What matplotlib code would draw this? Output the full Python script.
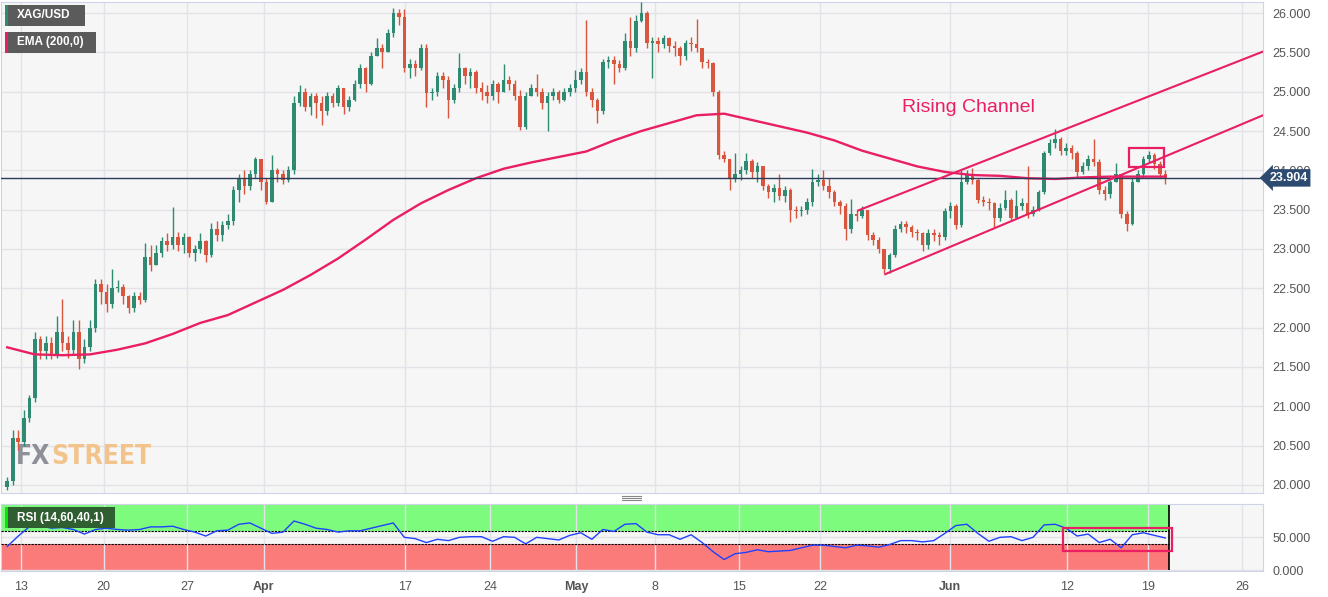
import matplotlib
matplotlib.use("Agg")
import matplotlib.pyplot as plt
import matplotlib.transforms as mtransforms
from matplotlib.patches import Rectangle
from matplotlib.lines import Line2D
import numpy as np

plt.rcParams['font.family'] = ['Liberation Sans', 'DejaVu Sans']

# XAG/USD, 8h candles, Mar 10 - Jun 20 2023 (open = previous close)
first_open = 19.98
close = [20.05, 20.6, 20.55, 20.85, 21.1, 21.85, 21.7, 21.8, 21.65, 21.95,
         21.8, 21.72, 21.95, 21.6, 21.75, 22.0, 22.55, 22.45, 22.3, 22.5,
         22.52, 22.4, 22.25, 22.4, 22.35, 22.9, 22.8, 22.95, 23.1, 23.05,
         23.15, 23.05, 23.15, 22.95, 23.0, 23.1, 22.92, 23.25, 23.18, 23.3,
         23.35, 23.75, 23.9, 23.8, 23.95, 24.15, 23.85, 23.6, 24.0, 23.95,
         23.88, 24.0, 24.85, 25.0, 24.8, 24.95, 24.85, 24.75, 24.95, 24.85,
         25.05, 24.8, 24.9, 25.1, 25.3, 25.1, 25.45, 25.55, 25.5, 25.75,
         26.0, 25.95, 25.3, 25.35, 25.3, 25.55, 24.98, 25.0, 25.2, 25.15,
         24.9, 25.05, 25.3, 25.2, 25.25, 25.05, 25.0, 24.95, 25.1, 25.0,
         25.15, 25.1, 24.95, 24.55, 24.95, 25.05, 25.0, 24.85, 24.95, 25.0,
         24.9, 25.0, 25.05, 25.15, 25.25, 25.0, 24.9, 24.75, 25.38, 25.4,
         25.35, 25.3, 25.65, 25.55, 25.9, 26.0, 25.62, 25.65, 25.6, 25.68,
         25.58, 25.55, 25.45, 25.62, 25.6, 25.55, 25.38, 25.36, 25.0, 24.2,
         24.15, 23.9, 23.95, 24.0, 24.12, 23.98, 24.05, 23.8, 23.72, 23.78,
         23.68, 23.75, 23.5, 23.48, 23.5, 23.6, 23.85, 23.88, 23.8, 23.72,
         23.6, 23.55, 23.25, 23.45, 23.42, 23.5, 23.18, 23.12, 23.0, 22.75,
         22.92, 23.25, 23.32, 23.28, 23.22, 23.2, 23.05, 23.2, 23.18, 23.15,
         23.48, 23.55, 23.3, 23.85, 23.95, 23.88, 23.62, 23.6, 23.58, 23.4,
         23.52, 23.62, 23.4, 23.55, 23.58, 23.45, 23.5, 23.72, 24.22, 24.35,
         24.4, 24.25, 24.28, 24.22, 23.98, 24.05, 24.15, 24.1, 23.75, 23.7,
         23.85, 23.95, 23.45, 23.32, 23.85, 23.95, 24.15, 24.2, 24.08, 23.95, 23.904]
high = [20.1, 20.7, 20.7, 20.95, 21.15, 21.95, 21.9, 21.9, 21.88, 22.15,
        22.37, 21.9, 22.1, 22.1, 21.85, 22.1, 22.62, 22.62, 22.55, 22.75,
        22.6, 22.55, 22.42, 22.45, 22.45, 23.07, 23.05, 23.05, 23.15, 23.2,
        23.53, 23.22, 23.2, 23.17, 23.05, 23.2, 23.12, 23.33, 23.35, 23.35,
        23.45, 23.8, 23.95, 24.0, 24.0, 24.17, 24.12, 23.9, 24.2, 24.03,
        24.0, 24.05, 24.95, 25.08, 25.05, 24.98, 24.98, 24.95, 25.0, 24.98,
        25.08, 25.05, 24.95, 25.15, 25.35, 25.32, 25.5, 25.68, 25.6, 25.8,
        26.07, 26.05, 26.05, 25.42, 25.4, 25.61, 25.6, 25.05, 25.25, 25.25,
        25.2, 25.1, 25.49, 25.32, 25.3, 25.28, 25.12, 25.08, 25.15, 25.12,
        25.35, 25.2, 25.15, 25.02, 25.0, 25.1, 25.23, 25.05, 25.0, 25.05,
        25.02, 25.05, 25.1, 25.27, 25.3, 25.91, 25.05, 24.92, 25.42, 25.45,
        25.45, 25.4, 25.75, 25.95, 25.98, 26.14, 26.02, 25.7, 25.7, 25.72,
        25.7, 25.65, 25.58, 25.66, 25.7, 25.93, 25.55, 25.42, 25.38, 25.02,
        24.25, 24.15, 24.22, 24.05, 24.22, 24.15, 24.1, 24.05, 23.82, 23.82,
        23.95, 23.8, 23.77, 23.55, 23.55, 23.65, 24.02, 23.95, 24.0, 23.9,
        23.75, 23.62, 23.58, 23.64, 23.5, 23.55, 23.5, 23.22, 23.15, 23.0,
        22.95, 23.3, 23.35, 23.35, 23.3, 23.26, 23.22, 23.25, 23.25, 23.22,
        23.52, 23.6, 23.57, 24.0, 24.0, 24.03, 23.9, 23.68, 23.65, 23.6,
        23.58, 23.75, 23.65, 23.75, 23.65, 24.06, 23.55, 23.75, 24.25, 24.4,
        24.53, 24.42, 24.35, 24.32, 24.25, 24.1, 24.2, 24.4, 24.15, 23.8,
        23.88, 24.09, 23.95, 23.48, 23.9, 24.0, 24.18, 24.25, 24.22, 24.12, 24.0]
low = [19.93, 20.0, 20.45, 20.5, 20.8, 21.05, 21.6, 21.6, 21.6, 21.62,
       21.7, 21.62, 21.65, 21.48, 21.55, 21.7, 21.95, 22.3, 22.2, 22.25,
       22.45, 22.3, 22.18, 22.2, 22.3, 22.32, 22.72, 22.8, 22.9, 22.98,
       23.0, 22.98, 22.95, 22.9, 22.85, 22.95, 22.83, 22.9, 23.1, 23.1,
       23.25, 23.3, 23.6, 23.7, 23.75, 23.9, 23.75, 23.57, 23.6, 23.85,
       23.82, 23.85, 23.95, 24.82, 24.76, 24.7, 24.66, 24.57, 24.7, 24.8,
       24.82, 24.72, 24.75, 24.88, 25.05, 25.0, 25.08, 25.45, 25.3, 25.5,
       25.7, 25.85, 25.25, 25.17, 25.2, 25.28, 24.8, 24.9, 24.95, 25.05,
       24.66, 24.85, 25.0, 25.1, 25.05, 24.98, 24.9, 24.85, 24.9, 24.85,
       25.0, 25.02, 24.9, 24.51, 24.52, 24.95, 24.95, 24.78, 24.5, 24.9,
       24.85, 24.88, 24.95, 25.0, 25.1, 24.95, 24.8, 24.6, 24.72, 25.3,
       25.1, 25.25, 25.28, 25.45, 25.5, 25.88, 25.55, 25.17, 25.5, 25.55,
       25.5, 25.45, 25.34, 25.4, 25.52, 25.5, 25.3, 25.3, 24.95, 24.15,
       24.1, 23.75, 23.85, 23.88, 23.95, 23.9, 23.85, 23.75, 23.65, 23.6,
       23.62, 23.6, 23.34, 23.4, 23.42, 23.45, 23.55, 23.8, 23.75, 23.65,
       23.55, 23.45, 23.12, 23.2, 23.35, 23.4, 23.12, 23.05, 22.95, 22.69,
       22.7, 22.9, 23.22, 23.2, 23.15, 23.12, 22.98, 23.0, 23.1, 23.05,
       23.12, 23.4, 23.25, 23.28, 23.82, 23.82, 23.58, 23.55, 23.5, 23.28,
       23.35, 23.5, 23.36, 23.38, 23.5, 23.4, 23.42, 23.48, 23.7, 24.2,
       24.28, 24.2, 24.2, 24.15, 23.92, 23.95, 24.0, 24.05, 23.7, 23.62,
       23.65, 23.85, 23.4, 23.23, 23.3, 23.85, 23.9, 24.1, 24.02, 23.9, 23.83]

# EMA(200) sampled every 5 candles
ema_idx = list(range(0, 211, 5))
ema200 = [21.75, 21.66, 21.65, 21.66, 21.72, 21.8, 21.92, 22.06, 22.16, 22.32,
          22.48, 22.67, 22.88, 23.12, 23.37, 23.58, 23.75, 23.9, 24.02, 24.1,
          24.17, 24.24, 24.38, 24.5, 24.6, 24.7, 24.72, 24.64, 24.56, 24.48,
          24.38, 24.25, 24.15, 24.05, 23.98, 23.94, 23.93, 23.9, 23.89, 23.91,
          23.92, 23.92, 23.92]

# RSI(14) sampled every 2 candles
rsi_idx = list(range(0, 211, 2))
rsi14 = [36, 52, 66, 68, 64, 65, 62, 55, 62, 64,
         62, 61, 62, 66, 66, 67, 62, 58, 52, 60,
         61, 70, 72, 64, 56, 58, 75, 70, 64, 62,
         58, 60, 60, 64, 68, 72, 50, 48, 42, 47,
         45, 50, 51, 51, 44, 51, 50, 40, 50, 48,
         46, 53, 57, 47, 62, 59, 70, 71, 58, 54,
         54, 47, 54, 42, 28, 16, 25, 27, 31, 28,
         29, 30, 34, 38, 38, 36, 34, 38, 37, 35,
         39, 45, 45, 43, 45, 56, 68, 70, 56, 44,
         50, 51, 45, 50, 69, 70, 64, 52, 55, 42,
         47, 34, 54, 57, 53, 49]

tick_pos = [2.5, 17.5, 32.6, 46.5, 72.2, 87.6, 103.2, 117.5, 132.6, 147.4, 171.0, 192.2, 206.9, 223.9]
tick_lab = ['13', '20', '27', 'Apr', '17', '24', 'May', '8', '15', '22', 'Jun', '12', '19', '26']
months = ['Apr', 'May', 'Jun']

last_price = 23.904
upper_x, upper_y = [154.3, 227.7], [23.49, 25.51]
lower_x, lower_y = [159.2, 227.7], [22.68, 24.70]
price_box = [203.4, 209.7, 24.04, 24.29]
rsi_box = [191.4, 211.2, 28.8, 63.6]

W, H = 1328, 597
def fx(px):
    return px / W
def fy(py):
    return 1 - py / H

green = '#2e8a70'
red = '#d9553d'
pink = '#e91e63'
border = '#cfd3e6'
gridc = '#e2e2e8'

fig = plt.figure(figsize=(W / 100, H / 100), dpi=100)
ax = fig.add_axes([fx(1), fy(493), fx(1262), fy(2) - fy(493)])
ax2 = fig.add_axes([fx(1), fy(571), fx(1262), fy(504) - fy(571)])

o = np.array([first_open] + close[:-1])
c = np.array(close)
h = np.maximum(np.array(high), np.maximum(o, c))
l = np.minimum(np.array(low), np.minimum(o, c))
x = np.arange(len(c))
cols = [green if cc >= oo else red for oo, cc in zip(o, c)]

ax.set_facecolor('#f6f6f6')
ax.vlines(x, l, h, colors=cols, lw=1, zorder=3)
body = np.maximum(np.abs(c - o), 0.012)
ax.bar(x, body, bottom=np.minimum(o, c), width=0.64, color=cols, lw=0, zorder=4)

ax.plot(ema_idx, ema200, color=pink, lw=1.7, zorder=5)
ax.axhline(last_price, color='#2b3d5b', lw=1, zorder=5)
ax.plot(upper_x, upper_y, color=pink, lw=1.5, zorder=6)
ax.plot(lower_x, lower_y, color=pink, lw=1.5, zorder=6)
ax.add_patch(Rectangle((price_box[0], price_box[2]), price_box[1] - price_box[0],
                       price_box[3] - price_box[2], fill=False, ec=pink, lw=1.6, zorder=7))
ax.text(174.3, 24.8, 'Rising Channel', color=pink, fontsize=14, ha='center', va='center')

xlim = (-1.13, 227.7)
ax.set_xlim(*xlim)
ax.set_ylim(19.898, 26.14)
ax.set_xticks(tick_pos)
ax.set_xticklabels([])
ax.yaxis.tick_right()
ax.set_yticks(np.arange(20, 26.01, 0.5))
ax.set_yticklabels(['%.3f' % v for v in np.arange(20, 26.01, 0.5)])
ax.tick_params(axis='both', length=0, labelsize=9, labelcolor='#555555', pad=7)
ax.grid(True, color=gridc, lw=1, zorder=0)
for s in ax.spines.values():
    s.set_color(border)

trans = mtransforms.blended_transform_factory(ax.transAxes, ax.transData)
ax.text(1.005, last_price, '23.904', transform=trans, color='white', fontsize=9,
        fontweight='bold', ha='left', va='center', zorder=10, clip_on=False,
        bbox=dict(boxstyle='larrow,pad=0.22', fc='#2d4a70', ec='none'))

# FXSTREET watermark
wm = ax.text(0.012, 0.074, 'FX', transform=ax.transAxes, fontsize=19, fontweight='bold',
             color='#8d9099', family='DejaVu Sans', fontstretch='condensed',
             va='center', ha='left', zorder=2)
ax.annotate('STREET', xy=(1, 0.5), xycoords=wm, xytext=(0.5, 0), textcoords='offset points',
            fontsize=19, fontweight='bold', color='#f2c48c', family='DejaVu Sans',
            fontstretch='condensed', va='center', ha='left', zorder=2)

# RSI panel
end_x = len(c) - 0.4
ax2.set_facecolor('#f6f6f6')
ax2.fill_between([xlim[0], end_x], 60, 100, color='#7dfb7d', lw=0, zorder=1)
ax2.fill_between([xlim[0], end_x], 0, 40, color='#fb7b7b', lw=0, zorder=1)
ax2.hlines([40, 60], xlim[0], end_x, colors='black', linestyles=(0, (2, 1)), lw=0.8, zorder=3)
ax2.vlines(end_x, 0, 100, colors='black', lw=1.2, zorder=3)
ax2.plot(rsi_idx, rsi14, color='#2040ff', lw=1, zorder=4)
ax2.add_patch(Rectangle((rsi_box[0], rsi_box[2]), rsi_box[1] - rsi_box[0],
                        rsi_box[3] - rsi_box[2], fill=False, ec=pink, lw=1.6, zorder=6, clip_on=False))
ax2.set_xlim(*xlim)
ax2.set_ylim(-1.5, 101)
ax2.yaxis.tick_right()
ax2.set_yticks([0, 50])
ax2.set_yticklabels(['0.000', '50.000'])
ax2.set_xticks(tick_pos)
ax2.set_xticklabels(tick_lab)
for t in ax2.get_xticklabels():
    if t.get_text() in months:
        t.set_fontweight('bold')
ax2.tick_params(axis='both', length=0, labelsize=9, labelcolor='#555555', pad=7)
ax2.grid(True, color=gridc, lw=1, zorder=2)
for s in ax2.spines.values():
    s.set_color(border)

# legend labels
def label_box(x0, y0, w, hgt, fc, stripe, text):
    fig.add_artist(Rectangle((fx(x0), fy(y0 + hgt)), w / W, hgt / H, transform=fig.transFigure,
                             fc=fc, ec='none', zorder=20))
    fig.add_artist(Rectangle((fx(x0), fy(y0 + hgt)), 3 / W, hgt / H, transform=fig.transFigure,
                             fc=stripe, ec='none', zorder=21))
    fig.text(fx(x0 + 12), fy(y0 + hgt / 2), text, color='white', fontsize=8.5,
             fontweight='bold', va='center', ha='left', zorder=22)

label_box(5, 5, 80, 21, '#5b5b5b', '#2e8a70', 'XAG/USD')
label_box(5, 32, 91, 21, '#5b5b5b', pink, 'EMA (200,0)')
label_box(5, 507, 110, 21, '#2f5e31', '#10e010', 'RSI (14,60,40,1)')

# pane divider handle
for py in (495.5, 497.5, 499.5):
    fig.add_artist(Line2D([fx(622), fx(641)], [fy(py), fy(py)], color='#888888', lw=0.8))

fig.savefig('out.png', dpi=100)
